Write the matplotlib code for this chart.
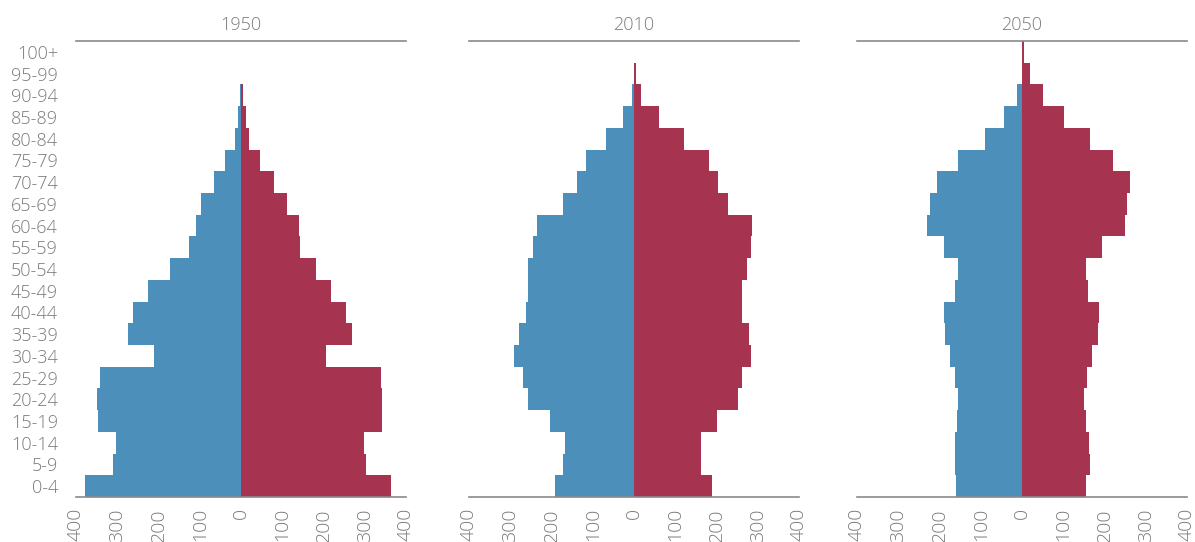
import matplotlib
matplotlib.use("Agg")
import matplotlib.pyplot as plt
import numpy as np

ages = ["0-4", "5-9", "10-14", "15-19", "20-24", "25-29", "30-34", "35-39",
        "40-44", "45-49", "50-54", "55-59", "60-64", "65-69", "70-74", "75-79",
        "80-84", "85-89", "90-94", "95-99", "100+"]
years = ["1950", "2010", "2050"]

# males (left, blue), 0-4 first
male_1950 = [377, 310, 302, 346, 349, 342, 211, 273, 261, 225, 173,
             126, 109, 97, 66, 38, 15, 7, 2, 0, 0]
male_2010 = [191, 172, 168, 203, 256, 270, 291, 279, 263, 256, 256,
             246, 236, 171, 138, 116, 67, 26, 4, 1, 0]
male_2050 = [160, 162, 162, 158, 155, 162, 174, 186, 190, 162, 154,
             190, 231, 223, 206, 154, 89, 43, 12, 1, 0]

# females (right, red)
female_1950 = [363, 302, 298, 343, 343, 339, 207, 268, 255, 219, 182,
               144, 140, 111, 80, 47, 19, 12, 4, 0, 0]
female_2010 = [189, 163, 163, 200, 252, 263, 283, 278, 263, 263, 274,
               283, 287, 228, 203, 183, 120, 61, 16, 6, 0]
female_2050 = [155, 164, 162, 154, 151, 158, 170, 184, 186, 159, 154,
               194, 249, 255, 262, 221, 166, 103, 51, 20, 5]

males = [male_1950, male_2010, male_2050]
females = [female_1950, female_2010, female_2050]

blue = "#4b8fba"
red = "#a6334f"
grey = "#8a8a8a"
txt = "#7a7a7a"

plt.rcParams['font.family'] = ['Open Sans', 'DejaVu Sans']

W, H = 1195, 542
fig = plt.figure(figsize=(W / 100, H / 100), dpi=100)

lefts = [76, 469, 857]
y = np.arange(len(ages))
for k in range(3):
    ax = fig.add_axes([lefts[k] / W, 1 - 497 / H, 330 / W, 456 / H])
    ax.barh(y, -np.array(males[k]), height=1.0, color=blue, linewidth=0)
    ax.barh(y, females[k], height=1.0, color=red, linewidth=0)
    ax.set_xlim(-400, 400)
    ax.set_ylim(-0.5, len(ages) - 0.5)
    for s in ["left", "right"]:
        ax.spines[s].set_visible(False)
    for s in ["top", "bottom"]:
        ax.spines[s].set_color(grey)
        ax.spines[s].set_linewidth(1.2)
    ticks = [-400, -300, -200, -100, 0, 100, 200, 300, 400]
    ax.set_xticks(ticks)
    ax.set_xticklabels([str(abs(t)) for t in ticks], rotation=90,
                       fontsize=14, color=txt, fontweight="light")
    ax.tick_params(axis="x", length=0, pad=8)
    ax.set_yticks(y)
    if k == 0:
        ax.set_yticklabels(ages, fontsize=13, color=txt, fontweight="light")
        ax.tick_params(axis="y", length=0, pad=13)
    else:
        ax.set_yticklabels([])
        ax.tick_params(axis="y", length=0)
    ax.set_title(years[k], fontsize=13, color=txt, pad=8, fontweight="light")

fig.savefig("out.png", dpi=100)
